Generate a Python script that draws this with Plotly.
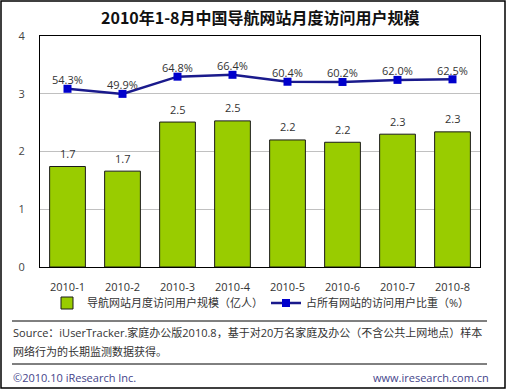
import plotly.graph_objects as go

categories = ["2010-1", "2010-2", "2010-3", "2010-4", "2010-5", "2010-6", "2010-7", "2010-8"]
users = [1.74, 1.66, 2.51, 2.53, 2.20, 2.16, 2.30, 2.34]
share = [54.3, 49.9, 64.8, 66.4, 60.4, 60.2, 62.0, 62.5]
y_ticks = [0, 1, 2, 3, 4]

bar_name = "导航网站月度访问用户规模（亿人）"
line_name = "占所有网站的访问用户比重（%）"
title_text = "2010年1-8月中国导航网站月度访问用户规模"
source_line1 = "Source：iUserTracker.家庭办公版2010.8，基于对20万名家庭及办公（不含公共上网地点）样本"
source_line2 = "网络行为的长期监测数据获得。"
copyright_text = "©2010.10 iResearch Inc."
website_text = "www.iresearch.com.cn"

W, H = 506, 389
L, R, T, B = 40, 26, 36, 122
PW, PH = W - L - R, H - T - B


def px(x):
    return (x - L) / PW


def py(y):
    return (H - B - y) / PH


FONT = "Open Sans, Noto Sans CJK SC, sans-serif"

fig = go.Figure()
fig.add_trace(go.Bar(
    x=categories, y=users, name=bar_name,
    marker=dict(color="#99cc00", line=dict(color="#1a1a1a", width=1)),
    width=0.65,
))
fig.add_trace(go.Scatter(
    x=categories, y=share, name=line_name, yaxis="y2",
    mode="lines+markers",
    line=dict(color="#1a1a8c", width=2.5),
    marker=dict(symbol="square", size=8, color="#0000cc"),
))

annotations = []
for c, v in zip(categories, users):
    annotations.append(dict(x=c, y=v, xref="x", yref="y", text=f"{v:.1f}", showarrow=False,
                            yshift=13, font=dict(size=11, color="#333333", family=FONT)))
for c, v in zip(categories, share):
    annotations.append(dict(x=c, y=v, xref="x", yref="y2", text=f"{v:.1f}%", showarrow=False,
                            yshift=9, font=dict(size=11, color="#333333", family=FONT)))

annotations += [
    dict(x=0.5, y=py(17), xref="paper", yref="paper", text=f"<b>{title_text}</b>", showarrow=False,
         xanchor="center", yanchor="middle", font=dict(size=16, color="#111111", family="Noto Sans CJK SC, sans-serif")),
    dict(x=px(11), y=py(333), xref="paper", yref="paper", text=source_line1, showarrow=False,
         xanchor="left", yanchor="middle", font=dict(size=11, color="#333333", family=FONT)),
    dict(x=px(11), y=py(351), xref="paper", yref="paper", text=source_line2, showarrow=False,
         xanchor="left", yanchor="middle", font=dict(size=11, color="#333333", family=FONT)),
    dict(x=px(11), y=py(377), xref="paper", yref="paper", text=copyright_text, showarrow=False,
         xanchor="left", yanchor="middle", font=dict(size=11, color="#44448a", family=FONT)),
    dict(x=px(491), y=py(377), xref="paper", yref="paper", text=website_text, showarrow=False,
         xanchor="right", yanchor="middle", font=dict(size=11, color="#44448a", family=FONT)),
]

shapes = [
    dict(type="line", xref="paper", yref="paper", x0=px(12), x1=px(487), y0=py(321), y1=py(321),
         line=dict(color="#000000", width=1)),
    dict(type="line", xref="paper", yref="paper", x0=px(12), x1=px(487), y0=py(364), y1=py(364),
         line=dict(color="#000000", width=1)),
    dict(type="rect", xref="paper", yref="paper", x0=px(1), x1=px(505), y0=py(1), y1=py(388),
         line=dict(color="#000000", width=1.5)),
]

fig.update_layout(
    width=W, height=H,
    margin=dict(l=L, r=R, t=T, b=B, autoexpand=False),
    paper_bgcolor="white", plot_bgcolor="white",
    font=dict(family=FONT, size=11, color="#333333"),
    showlegend=True,
    legend=dict(orientation="h", xref="container", yref="container",
                x=47 / W, y=1 - 303 / H, xanchor="left", yanchor="middle",
                font=dict(size=11, color="#333333", family=FONT),
                entrywidth=174, entrywidthmode="pixels",
                bgcolor="rgba(0,0,0,0)", itemwidth=30),
    xaxis=dict(type="category", showline=True, linecolor="#000000", linewidth=1, mirror=True,
               ticks="", tickfont=dict(size=11, color="#333333"), ticklabelstandoff=10),
    yaxis=dict(range=[0, 4], tickvals=y_ticks, showline=True, linecolor="#000000", linewidth=1,
               mirror=True, showgrid=True, gridcolor="#c0c0c0", gridwidth=1, zeroline=False,
               ticks="", tickfont=dict(size=11, color="#444444"), ticklabelstandoff=12),
    yaxis2=dict(range=[-100, 100], overlaying="y", side="right", visible=False),
    annotations=annotations,
    shapes=shapes,
)

fig.write_html("out.html", config={"displayModeBar": False},
               post_script="document.body.style.margin='0';document.body.style.overflow='hidden';")
